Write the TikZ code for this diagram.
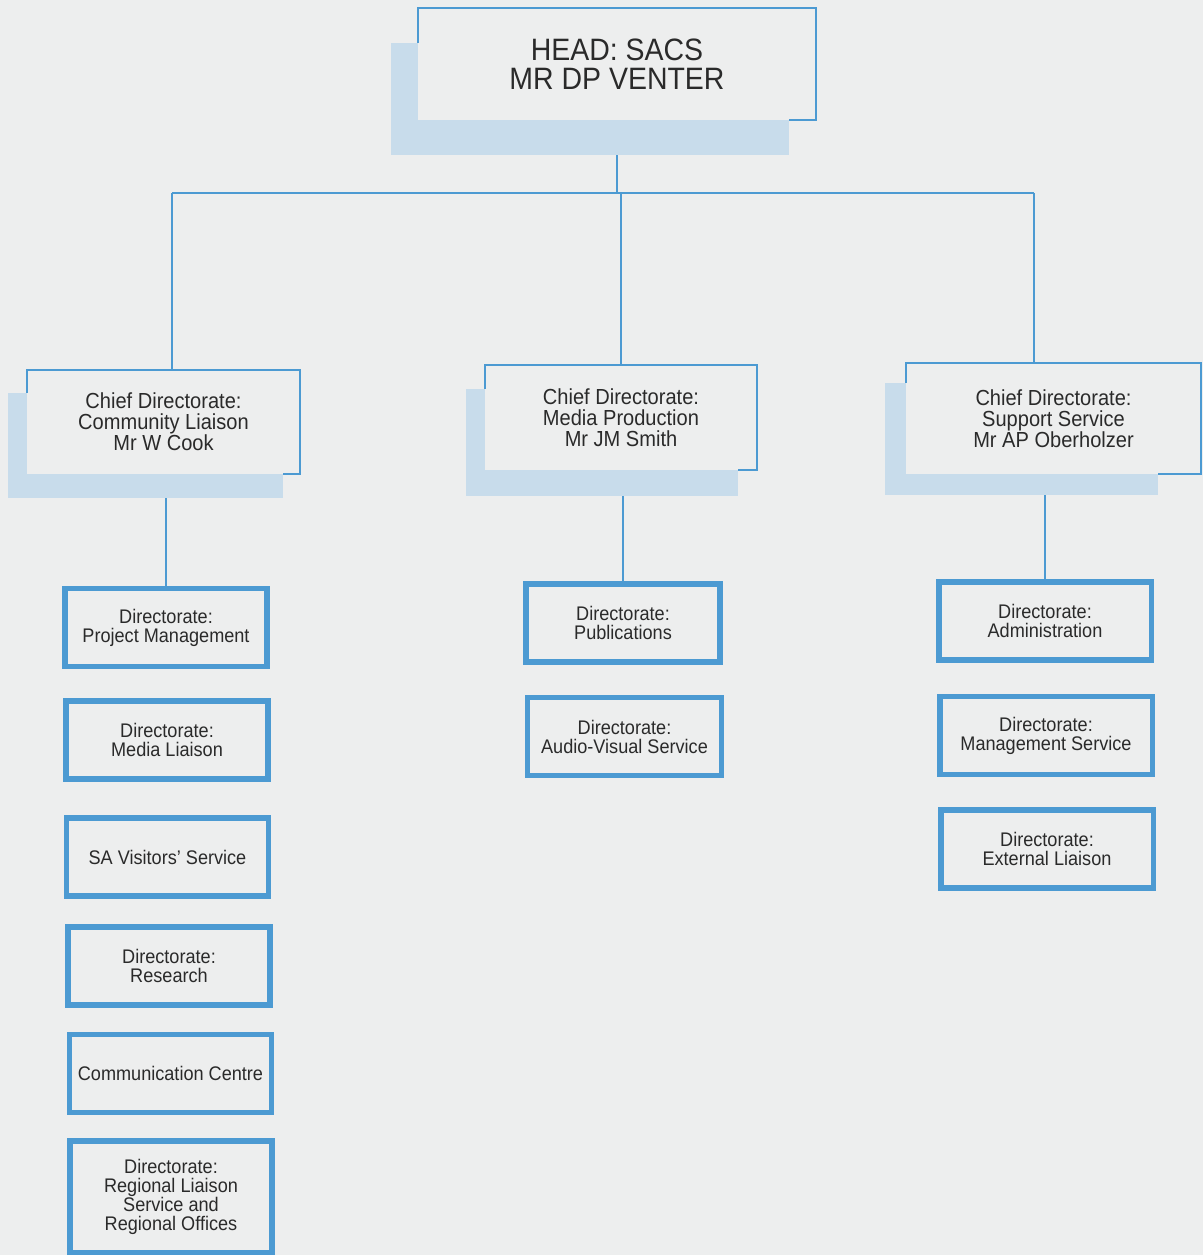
\documentclass[tikz,border=0pt]{standalone}
\usepackage{fontspec}
\setmainfont{Liberation Sans}[FakeStretch=0.92]

\definecolor{paper}{HTML}{EDEEEE}
\definecolor{chartblue}{HTML}{4C9AD2}
\definecolor{shadeblue}{HTML}{C8DCEB}
\definecolor{ink}{HTML}{2A2A2A}

\tikzset{
  link/.style={draw=chartblue, line width=1.4pt},
  shadebox/.style={fill=shadeblue, inner sep=0pt, outer sep=0pt},
  chiefbox/.style={fill=paper, text=ink, align=center, inner sep=0pt, outer sep=0pt,
    font=\fontsize{15.5}{15}\selectfont},
  headbox/.style={chiefbox, font=\fontsize{22}{21}\selectfont},
  dirbox/.style={draw=chartblue, line width=3.9pt, fill=paper, text=ink, align=center,
    minimum height=1.96cm, inner sep=2pt, font=\fontsize{14}{13.5}\selectfont}
}

\begin{document}
\begin{tikzpicture}[x=0.025cm, y=-0.025cm]

    % --- 1. Page ---
    \fill[paper] (0,0) rectangle (1203,1255);
    \useasboundingbox (0,0) rectangle (1203,1255);

    % --- 2. Head (shadow first, then the box over it) ---
    \node[shadebox, minimum width=9.95cm, minimum height=2.8cm] (head-sh) at (590,99) {};
    \node[headbox, minimum width=9.95cm, minimum height=2.8cm] (head) at (617,64) {HEAD: SACS\\MR DP VENTER};
    \draw[link] (head.west |- head-sh.north) -- (head.north west) -- (head.north east)
        -- (head.south east) -- (head-sh.east |- head.south);

    % --- 3. Chief directorates ---
    % Community Liaison
    \node[shadebox, minimum width=6.875cm, minimum height=2.625cm] (cl-sh) at (145.5,445.5) {};
    \node[chiefbox, minimum width=6.825cm, minimum height=2.6cm] (cl) at (163.5,422)
        {Chief Directorate:\\Community Liaison\\Mr W Cook};
    \draw[link] (cl.west |- cl-sh.north) -- (cl.north west) -- (cl.north east)
        -- (cl.south east) -- (cl-sh.east |- cl.south);

    % Media Production
    \node[shadebox, minimum width=6.8cm, minimum height=2.675cm] (cm-sh) at (602,442.5) {};
    \node[chiefbox, minimum width=6.8cm, minimum height=2.625cm] (cm) at (621,417.5)
        {Chief Directorate:\\Media Production\\Mr JM Smith};
    \draw[link] (cm.west |- cm-sh.north) -- (cm.north west) -- (cm.north east)
        -- (cm.south east) -- (cm-sh.east |- cm.south);

    % Support Service
    \node[shadebox, minimum width=6.825cm, minimum height=2.8cm] (cr-sh) at (1021.5,439) {};
    \node[chiefbox, minimum width=7.375cm, minimum height=2.775cm] (cr) at (1053.5,418.5)
        {Chief Directorate:\\Support Service\\Mr AP Oberholzer};
    \draw[link] (cr.west |- cr-sh.north) -- (cr.north west) -- (cr.north east)
        -- (cr.south east) -- (cr-sh.east |- cr.south);

    % --- 4. Directorates ---
    % Left column
    \node[dirbox, minimum width=5.04cm] (pm) at (166,627.5) {Directorate:\\Project Management};
    \node[dirbox, minimum width=5.04cm] (ml) at (167,740) {Directorate:\\Media Liaison};
    \node[dirbox, minimum width=5.04cm] (sa) at (167.5,857) {SA Visitors' Service};
    \node[dirbox, minimum width=5.04cm] (re) at (169,966) {Directorate:\\Research};
    \node[dirbox, minimum width=5.04cm] (cc) at (170.5,1073.5) {Communication Centre};
    \node[dirbox, minimum width=5.04cm, minimum height=2.8cm] (rg) at (171,1197)
        {Directorate:\\Regional Liaison\\Service and\\Regional Offices};

    % Middle column
    \node[dirbox, minimum width=4.86cm] (pub) at (623,623) {Directorate:\\Publications};
    \node[dirbox, minimum width=4.86cm] (av) at (624.5,736.5) {Directorate:\\Audio-Visual Service};

    % Right column
    \node[dirbox, minimum width=5.31cm] (adm) at (1045,621) {Directorate:\\Administration};
    \node[dirbox, minimum width=5.31cm] (ms) at (1046,735.5) {Directorate:\\Management Service};
    \node[dirbox, minimum width=5.31cm] (el) at (1047,849) {Directorate:\\External Liaison};

    % --- 5. Connecting lines ---
    \coordinate (bus-l) at (172,193);
    \coordinate (bus-r) at (1034,193);
    \draw[link] (bus-l) -- (bus-r);
    \draw[link] (head-sh.south -| head.south) -- (head.south |- bus-l);
    \draw[link] (bus-l) -- (bus-l |- cl.north);
    \draw[link] (cm.north |- bus-l) -- (cm.north);
    \draw[link] (bus-r) -- (bus-r |- cr.north);

    \draw[link] (cl-sh.south -| pm.north) -- (pm.north);
    \draw[link] (cm-sh.south -| pub.north) -- (pub.north);
    \draw[link] (cr-sh.south -| adm.north) -- (adm.north);

\end{tikzpicture}
\end{document}
